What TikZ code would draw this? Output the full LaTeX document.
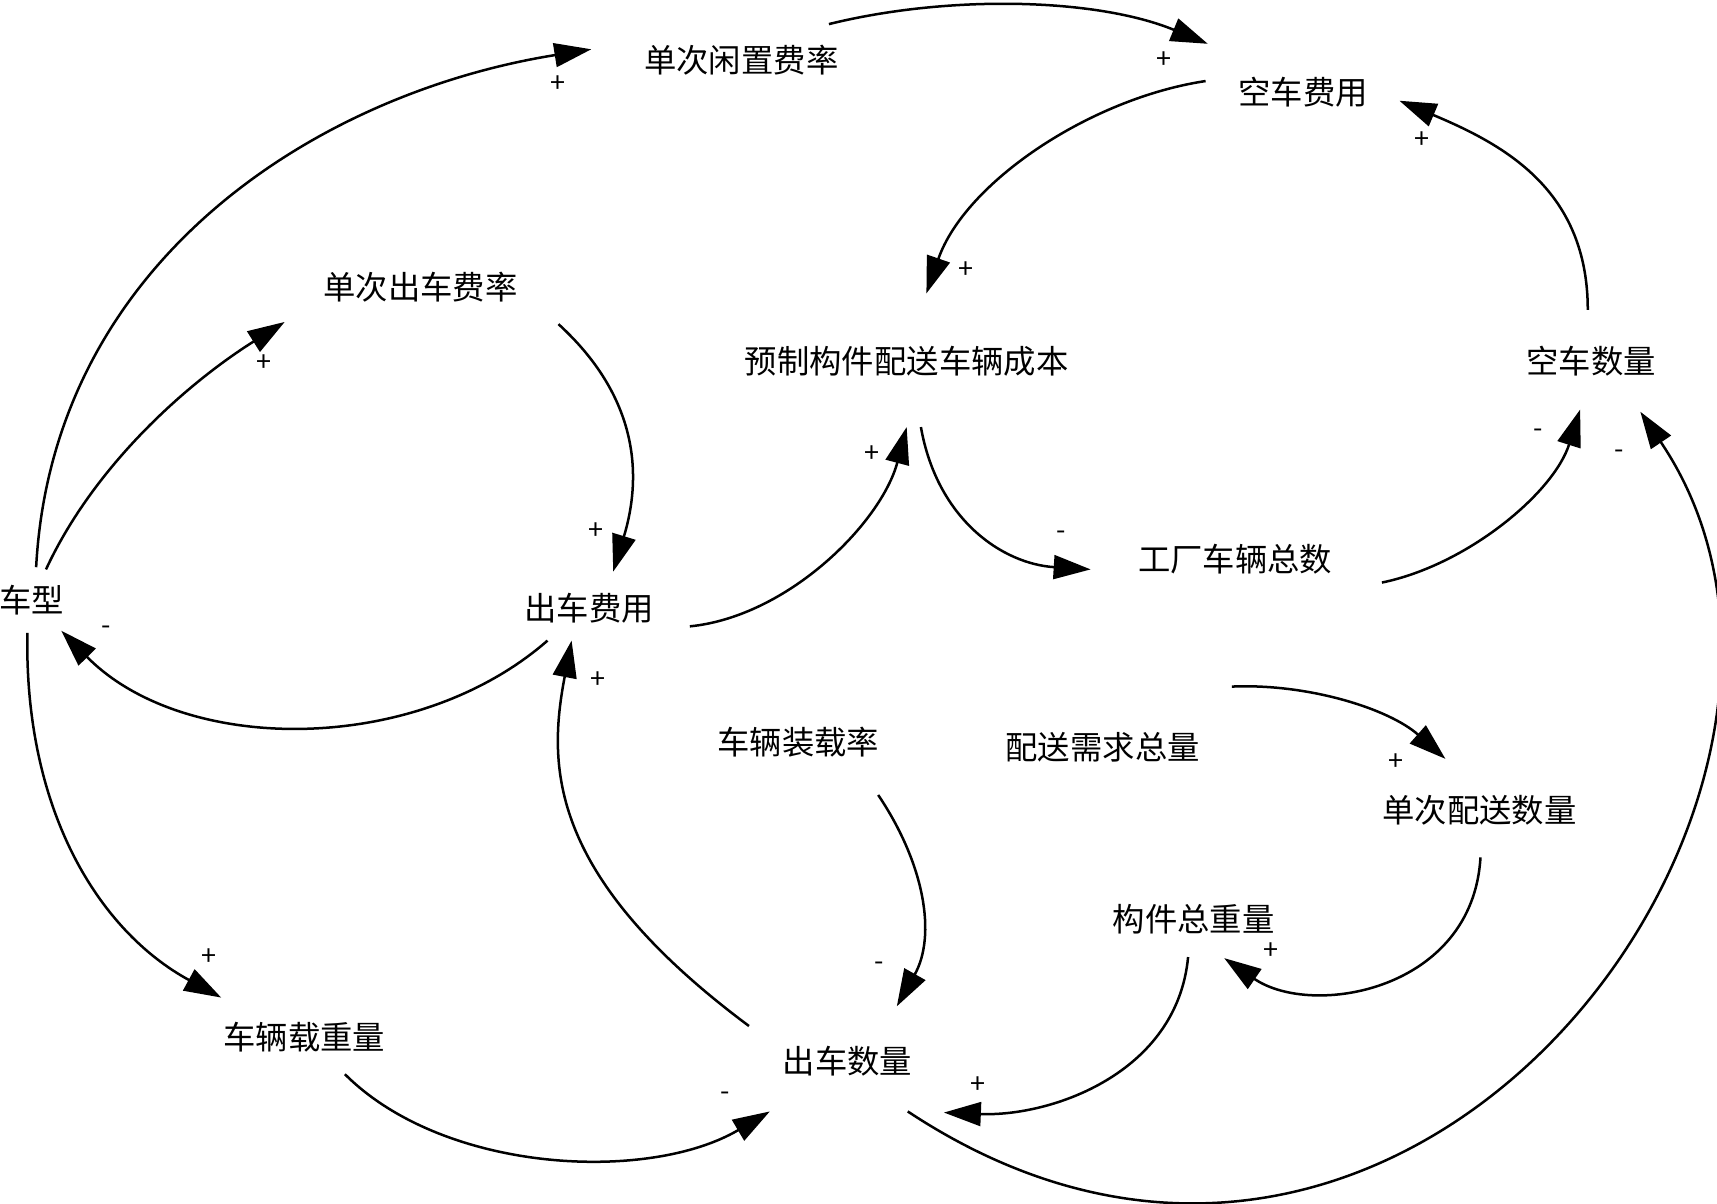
\documentclass[tikz,border=0pt]{standalone}
\usepackage{fontspec}
\newfontfamily\cjk{Noto Sans CJK SC}
\usetikzlibrary{arrows.meta}
\begin{document}
\begin{tikzpicture}[x=0.01cm,y=-0.01cm]
\tikzset{var/.style={font=\cjk\fontsize{8.4pt}{10pt}\selectfont,inner sep=0pt}}
\tikzset{sign/.style={font=\cjk\fontsize{7pt}{8pt}\selectfont,inner sep=0pt}}
\tikzset{link/.style={draw,line width=0.65pt,-{Triangle[length=9.6pt,width=6.2pt]}}}
\useasboundingbox (0,0) rectangle (1568,1099.5);
\node [var] (cx) at (29,548) {车型};
\node [var] (dxz) at (677,55) {单次闲置费率};
\node [var] (kfy) at (1190,84) {空车费用};
\node [var] (dcf) at (384,262) {单次出车费率};
\node [var] (cb) at (828,330) {预制构件配送车辆成本};
\node [var] (ksl) at (1453,330) {空车数量};
\node [var] (cfy) at (538,555) {出车费用};
\node [var] (gc) at (1128,511) {工厂车辆总数};
\node [var] (zzl) at (729,678) {车辆装载率};
\node [var] (xq) at (1007,682) {配送需求总量};
\node [var] (dps) at (1351,740) {单次配送数量};
\node [var] (gjz) at (1090,839) {构件总重量};
\node [var] (zzz) at (278,947) {车辆载重量};
\node [var] (csl) at (774,969) {出车数量};
\draw [link] ([shift={(4,-30)}]cx.center) .. controls +(15,-280) and +(-250,40) .. ([shift={(-137,-10)}]dxz.center);
\draw [link] ([shift={(13,-28)}]cx.center) .. controls +(44,-95) and +(-89,56) .. ([shift={(-124,32)}]dcf.center);
\draw [link] ([shift={(80,-33)}]dxz.center) .. controls +(109,-27) and +(-102,-42) .. ([shift={(-87,-44)}]kfy.center);
\draw [link] ([shift={(-89,-10)}]kfy.center) .. controls +(-106,16) and +(35,-101) .. ([shift={(18,-62)}]cb.center);
\draw [link] ([shift={(-3,-47)}]ksl.center) .. controls +(0,-110) and +(95,40) .. ([shift={(88,8)}]kfy.center);
\draw [link] ([shift={(126,34)}]dcf.center) .. controls +(70,64) and +(28,-92) .. ([shift={(22,-33)}]cfy.center);
\draw [link] ([shift={(-38,30)}]cfy.center) .. controls +(-120,105) and +(112,114) .. ([shift={(27,28)}]cx.center);
\draw [link] ([shift={(92,17)}]cfy.center) .. controls +(90,-9) and +(-23,87) .. ([shift={(0,60)}]cb.center);
\draw [link] ([shift={(13,60)}]cb.center) .. controls +(15,85) and +(-80,-5) .. ([shift={(-132,9)}]gc.center);
\draw [link] ([shift={(134,21)}]gc.center) .. controls +(78,-16) and +(-24,76) .. ([shift={(-10,44)}]ksl.center);
\draw [link] ([shift={(55,46)}]csl.center) .. controls +(461,305) and +(232,344) .. ([shift={(45,46)}]ksl.center);
\draw [link] ([shift={(-90,-32)}]csl.center) .. controls +(-184,-137) and +(-22,115) .. ([shift={(-16,30)}]cfy.center);
\draw [link] ([shift={(-4,30)}]cx.center) .. controls +(-3,162) and +(-112,-61) .. ([shift={(-76,-36)}]zzz.center);
\draw [link] ([shift={(37,34)}]zzz.center) .. controls +(91,91) and +(-110,65) .. ([shift={(-71,46)}]csl.center);
\draw [link] ([shift={(73,48)}]zzl.center) .. controls +(43,64) and +(36,-64) .. ([shift={(45,-50)}]csl.center);
\draw [link] ([shift={(118,-55)}]xq.center) .. controls +(69,-3) and +(-52,-46) .. ([shift={(-31,-47)}]dps.center);
\draw [link] ([shift={(1,43)}]dps.center) .. controls +(-7,122) and +(80,55) .. ([shift={(28,36)}]gjz.center);
\draw [link] ([shift={(-5,35)}]gjz.center) .. controls +(-10,106) and +(98,4) .. ([shift={(88,47)}]csl.center);
\node [sign] (p1) at (510,77) {+};
\node [sign] (p2) at (241,332) {+};
\node [sign] (p3) at (1063,55) {+};
\node [sign] (p4) at (882,247) {+};
\node [sign] (p5) at (1299,128) {+};
\node [sign] (p6) at (544,485) {+};
\node [sign] (p7) at (97,576) {-};
\node [sign] (p8) at (796,415) {+};
\node [sign] (p9) at (969,489) {-};
\node [sign] (p10) at (1405,396) {-};
\node [sign] (p11) at (1479,415) {-};
\node [sign] (p12) at (546,621) {+};
\node [sign] (p13) at (191,874) {+};
\node [sign] (p14) at (662,1001) {-};
\node [sign] (p15) at (803,882) {-};
\node [sign] (p16) at (1275,696) {+};
\node [sign] (p17) at (1161,869) {+};
\node [sign] (p18) at (893,991) {+};
\end{tikzpicture}
\end{document}
